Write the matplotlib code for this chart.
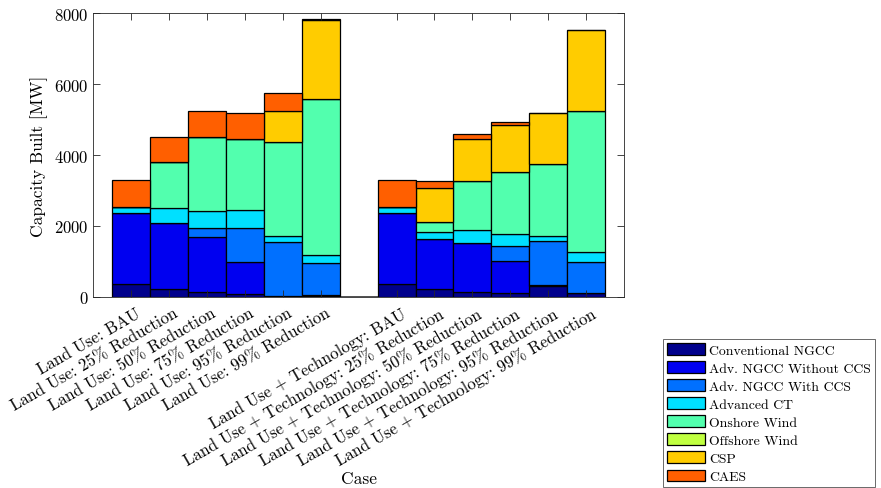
import numpy as np
import matplotlib
matplotlib.use("Agg")
from matplotlib import pyplot as plt
from matplotlib.transforms import ScaledTranslation

plt.rcParams['font.family'] = ['cmr10', 'DejaVu Serif']
plt.rcParams['mathtext.fontset'] = 'cm'
plt.rcParams['axes.formatter.use_mathtext'] = True

cases = [
    'Land Use: BAU',
    'Land Use: 25% Reduction',
    'Land Use: 50% Reduction',
    'Land Use: 75% Reduction',
    'Land Use: 95% Reduction',
    'Land Use: 99% Reduction',
    '',
    'Land Use + Technology: BAU',
    'Land Use + Technology: 25% Reduction',
    'Land Use + Technology: 50% Reduction',
    'Land Use + Technology: 75% Reduction',
    'Land Use + Technology: 95% Reduction',
    'Land Use + Technology: 99% Reduction',
]

technologies = ['Conventional NGCC', 'Adv. NGCC Without CCS', 'Adv. NGCC With CCS',
                'Advanced CT', 'Onshore Wind', 'Offshore Wind', 'CSP', 'CAES']

# capacity built per technology [MW], one value per case
conventional_ngcc = [360, 210, 130, 85, 10, 30, 0, 360, 217, 125, 105, 300, 100]
adv_ngcc_no_ccs = [2010, 1860, 1560, 895, 10, 20, 0, 2010, 1400, 1400, 895, 30, 0]
adv_ngcc_ccs = [0, 0, 240, 950, 1520, 900, 0, 0, 0, 0, 430, 1235, 870]
advanced_ct = [170, 425, 480, 510, 170, 235, 0, 170, 210, 350, 350, 140, 280]
onshore_wind = [0, 1300, 2090, 2010, 2650, 4385, 0, 0, 290, 1380, 1740, 2035, 3990]
offshore_wind = [0, 0, 0, 0, 0, 0, 0, 0, 0, 0, 0, 0, 0]
csp = [0, 0, 0, 0, 890, 2240, 0, 0, 950, 1195, 1320, 1455, 2280]
caes = [750, 720, 740, 745, 500, 20, 0, 750, 205, 140, 85, 0, 0]

colors = ['#00008c', '#0000f0', '#0070ff', '#00e0ff',
          '#52ffae', '#c0ff40', '#ffcc00', '#ff5f00']

series = [conventional_ngcc, adv_ngcc_no_ccs, adv_ngcc_ccs, advanced_ct,
          onshore_wind, offshore_wind, csp, caes]

fig = plt.figure(figsize=(8.81, 4.89), dpi=100)
ax = fig.add_axes([93.3 / 881, 1 - 297.7 / 489, (624 - 93.3) / 881, (297.7 - 14.3) / 489])

x = np.arange(1, len(cases) + 1)
bottom = np.zeros(len(cases))
for name, vals, col in zip(technologies, series, colors):
    vals = np.array(vals, dtype=float)
    ax.bar(x, vals, width=1.0, bottom=bottom, color=col, edgecolor='black',
           linewidth=0.9, label=name)
    bottom += vals

ax.set_xlim(0, 14)
ax.set_ylim(0, 8000)
ax.set_yticks([0, 2000, 4000, 6000, 8000])

tick_pos = [p for p, c in zip(x, cases) if c]
tick_lab = [c for c in cases if c]
ax.set_xticks(tick_pos)
ax.set_xticklabels(tick_lab, rotation=30, ha='right', rotation_mode='anchor')

ax.tick_params(direction='in', top=True, right=True, length=5, width=0.6,
               labelsize=12, colors='#262626', labelcolor='black')
ax.tick_params(axis='x', pad=6)
# nudge rotated labels a little to the right, like the original
shift = ScaledTranslation(4 / 100, 0, fig.dpi_scale_trans)
for lbl in ax.get_xticklabels():
    lbl.set_transform(lbl.get_transform() + shift)
for sp in ax.spines.values():
    sp.set_linewidth(0.6)
    sp.set_color('#262626')

ax.set_ylabel('Capacity Built [MW]', fontsize=12.5)
ax.set_xlabel('Case', fontsize=12.5, labelpad=2)

leg = fig.legend(loc='upper left', bbox_to_anchor=(662.7 / 881, 1 - 340 / 489),
                 fontsize=9.9, frameon=True, fancybox=False, edgecolor='#262626',
                 handlelength=2.75, handleheight=0.95, labelspacing=0.32,
                 handletextpad=0.3, borderpad=0.3, borderaxespad=0)
leg.get_frame().set_linewidth(0.6)

fig.savefig('out.png', dpi=100)
